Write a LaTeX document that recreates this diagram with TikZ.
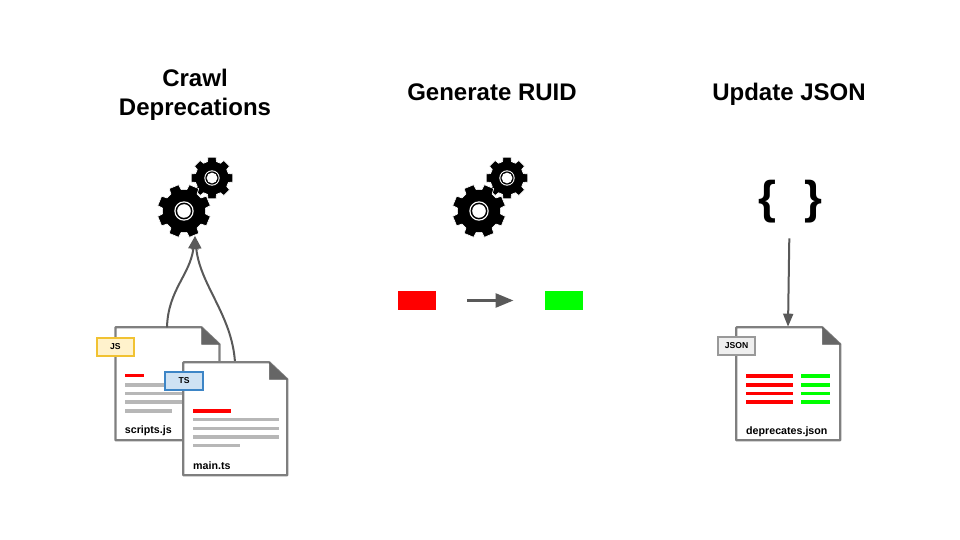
\documentclass[tikz,border=0pt]{standalone}
\usepackage{fontspec}
\setmainfont{Liberation Sans}
\usetikzlibrary{arrows.meta}
\definecolor{linegray}{HTML}{595959}
\definecolor{pagegray}{HTML}{7F7F7F}
\definecolor{foldgray}{HTML}{666666}
\definecolor{textgray}{HTML}{B7B7B7}
\definecolor{jsfill}{HTML}{FFF2CC}
\definecolor{jsline}{HTML}{F1C232}
\definecolor{tsfill}{HTML}{CFE2F3}
\definecolor{tsline}{HTML}{3D85C6}
\definecolor{jsonfill}{HTML}{EFEFEF}
\definecolor{jsonline}{HTML}{999999}
\tikzset{
  cog/.pic={
    \filldraw[fill=black,draw=white,line width=.6pt,line join=round] (-15:21.5pt)
      \foreach \a in {0,45,...,315} {
        -- (\a-15:21.5pt) -- (\a-11:26.8pt) -- (\a+11:26.8pt) -- (\a+15:21.5pt)
      } -- cycle;
    \fill[white] (0,0) circle (9.7pt);
    \fill[black] (0,0) circle (8.4pt);
    \fill[white] (0,0) circle (6.8pt);
  },
  page/.style={draw=pagegray,line width=2.2pt,fill=white,line join=round},
  fold/.style={fill=foldgray,draw=foldgray,line width=.5pt,line join=round},
  conn/.style={draw=linegray,line width=2pt,-{Triangle[length=13pt,width=10pt]}},
  tag/.style={draw,line width=2pt,minimum width=37.5pt,minimum height=18pt,inner sep=0pt,font=\fontsize{8.6}{10}\selectfont\bfseries},
  title/.style={align=center,font=\fontsize{24}{29}\selectfont\bfseries},
  caption/.style={anchor=west,inner sep=0pt,font=\fontsize{10.67}{12}\selectfont\bfseries},
  bar/.style={line width=3.4pt},
  patch/.style={minimum width=38pt,minimum height=19pt,inner sep=0pt}
}
\newcommand{\docpage}[2]{%
  \draw[page,shift={(#1,#2)}] (0,0) -- (86,0) -- (104,17) -- (104,113) -- (0,113) -- cycle;
  \draw[fold,shift={(#1,#2)}] (86,0) -- (104,17) -- (86,17) -- cycle;
}
\begin{document}
\begin{tikzpicture}[x=1pt,y=-1pt]
\useasboundingbox (0,0) rectangle (960,540);

\node[title,anchor=base] (crawl) at (195,115.5) {Crawl\\Deprecations};
\node[title,anchor=base] (ruid) at (492,100.5) {Generate RUID};
\node[title,anchor=base] (update) at (789,100.5) {Update JSON};

% gears
\coordinate (cogA) at (184,211);
\coordinate (cogB) at (212,178);
\coordinate (cogC) at (479,211);
\coordinate (cogD) at (507,178);
\pic[scale=.79] at (cogB) {cog};
\pic[rotate=22.5] at (cogA) {cog};
\pic[scale=.79] at (cogD) {cog};
\pic[rotate=22.5] at (cogC) {cog};

% scripts.js
\docpage{115.5}{327.3}
\draw[bar,red] (125,375.5) -- (143.5,375.5);
\foreach \y in {385,393.5,402} \draw[bar,textgray] (125,\y) -- (210,\y);
\draw[bar,textgray] (125,411) -- (171.7,411);
\node[caption] (scripts) at (124.7,431) {scripts.js};
\node[tag,fill=jsfill,draw=jsline] (jstag) at (115.4,346.5) {JS};

% connectors to the gears
\coordinate (gearin) at (195,236);
\coordinate (scriptsout) at (167,327.3);
\coordinate (mainout) at (235,362.3);
\draw[conn] (scriptsout) .. controls (168,290) and (190,275) .. (gearin);
\draw[conn] (mainout) .. controls (232,315) and (200,285) .. (gearin);

% main.ts
\docpage{183.3}{362.3}
\draw[bar,red] (193.3,411) -- (231,411);
\foreach \y in {419.7,428.3,437} \draw[bar,textgray] (193.3,\y) -- (278.5,\y);
\draw[bar,textgray] (193.3,445.7) -- (240,445.7);
\node[caption] (main) at (193,466) {main.ts};
\node[tag,fill=tsfill,draw=tsline] (tstag) at (184,380.5) {TS};

% ruid
\node[patch,fill=red] (oldid) at (417.3,300.5) {};
\node[patch,fill=green] (newid) at (563.8,300.5) {};
\coordinate (idfrom) at (467.3,300.5);
\coordinate (idto) at (513.5,300.5);
\draw[draw=linegray,line width=2.8pt,-{Triangle[length=18pt,width=14pt]}] (idfrom) -- (idto);

% json
\node[font=\fontsize{46}{50}\selectfont\bfseries] (lbrace) at (767,201.5) {\{};
\node[font=\fontsize{46}{50}\selectfont\bfseries] (rbrace) at (813.5,201.5) {\}};
\coordinate (jsonin) at (788,326.7);
\coordinate (jsonout) at (789.3,238.3);
\draw[conn] (jsonout) -- (jsonin);
\docpage{736.3}{327.3}
\foreach \y in {376,385,393.5,402} {
  \draw[bar,red] (746,\y) -- (793.3,\y);
  \draw[bar,green] (801.3,\y) -- (830,\y);
}
\node[caption] (deprecates) at (746,431.7) {deprecates.json};
\node[tag,fill=jsonfill,draw=jsonline] (jsontag) at (736.5,345.8) {JSON};
\end{tikzpicture}
\end{document}
